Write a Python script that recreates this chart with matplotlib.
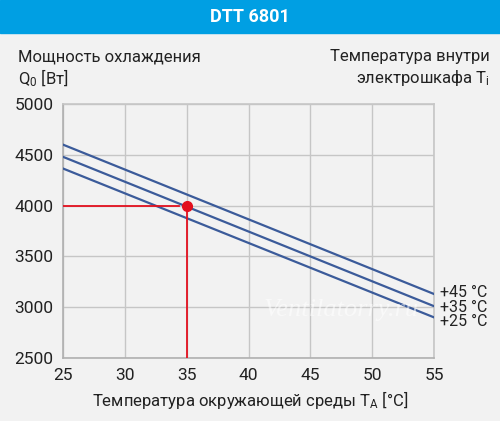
import matplotlib
matplotlib.use('Agg')
import matplotlib.pyplot as plt

# data
ambient = [25, 55]
temps_inside = ['+45 °C', '+35 °C', '+25 °C']
q_45 = [4600, 3130]
q_35 = [4480, 3010]
q_25 = [4365, 2900]
point_t, point_q = 35, 4000
x_ticks = [25, 30, 35, 40, 45, 50, 55]
y_ticks = [2500, 3000, 3500, 4000, 4500, 5000]

plt.rcParams['font.family'] = ['Roboto', 'DejaVu Sans']
plt.rcParams['mathtext.fontset'] = 'custom'
plt.rcParams['mathtext.rm'] = 'Roboto'
plt.rcParams['mathtext.it'] = 'Roboto:italic'

bg = '#f2f2f2'
blue_line = '#3b5b9a'
red = '#e3101e'
grid_c = '#c6c6c6'
txt = '#222222'

fig = plt.figure(figsize=(5, 4.21), dpi=100, facecolor=bg)

# header band
fig.patches.append(plt.Rectangle((0, 1 - 33 / 421), 1, 33 / 421, transform=fig.transFigure,
                                 color='#009fe3', zorder=0))
fig.text(0.5, 1 - 17 / 421, 'DTT 6801', color='white', fontsize=13, fontweight='bold',
         ha='center', va='center')

ax = fig.add_axes([63 / 500, 1 - 358 / 421, 371 / 500, 254 / 421])
ax.set_facecolor(bg)

for q in [q_45, q_35, q_25]:
    ax.plot(ambient, q, color=blue_line, lw=1.6, zorder=3)

# label offsets at the right end (points)
offs = [0.8, -1.2, -2.9]
for q, lab, dy in zip([q_45, q_35, q_25], temps_inside, offs):
    ax.annotate(lab, xy=(ambient[1], q[1]), xytext=(4, dy), textcoords='offset points',
                fontsize=11.5, va='center', ha='left', color=txt, annotation_clip=False)

# operating point
ax.plot([ambient[0], point_t - 0.6], [point_q, point_q], color=red, lw=1.3, zorder=4)
ax.plot([point_t, point_t], [y_ticks[0], point_q - 60], color=red, lw=1.3, zorder=4)
ax.plot(point_t, point_q, 'o', color=red, ms=7, zorder=5)

ax.set_xlim(25, 55)
ax.set_ylim(2500, 5000)
ax.set_xticks(x_ticks)
ax.set_yticks(y_ticks)
ax.grid(True, color=grid_c, lw=1)
ax.set_axisbelow(True)
for s in ax.spines.values():
    s.set_color(grid_c)
    s.set_linewidth(1.2)
ax.spines['left'].set_color('#b0b0b0')
ax.spines['bottom'].set_color('#b0b0b0')
ax.tick_params(length=0, labelsize=12.5, pad=7, labelcolor=txt)

ax.text(0.75, 0.19, 'Ventilatorry.ru', transform=ax.transAxes, fontsize=19, style='italic',
        family=['Liberation Serif', 'DejaVu Serif'],
        color='white', alpha=0.55, ha='center', va='center', zorder=6)

fig.text(18 / 500, 1 - 57 / 421, 'Мощность охлаждения', fontsize=12, va='center', ha='left', color=txt)
fig.text(18 / 500, 1 - 78 / 421, r'Q$_\mathrm{0}$ [Вт]', fontsize=12, va='center', ha='left', color=txt)
fig.text(490 / 500, 1 - 57 / 421, 'Температура внутри', fontsize=12, va='center', ha='right', color=txt)
fig.text(490 / 500, 1 - 78 / 421, r'электрошкафа T$_\mathrm{i}$', fontsize=12, va='center', ha='right',
         color=txt)
fig.text(0.5, 1 - 400 / 421, r'Температура окружающей среды T$_\mathrm{A}$ [°C]', fontsize=12,
         va='center', ha='center', color=txt)

fig.savefig('out.png', dpi=100, facecolor=bg)
